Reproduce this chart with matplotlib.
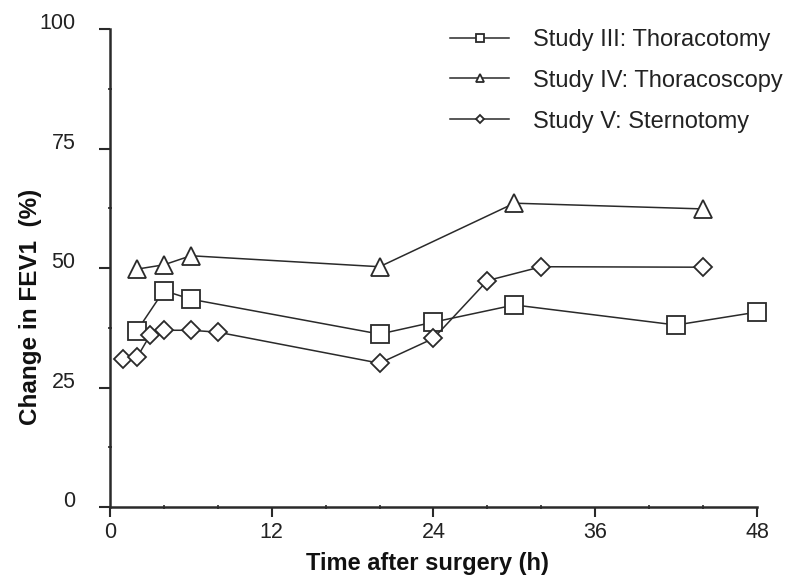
import matplotlib
matplotlib.use("Agg")
import matplotlib.pyplot as plt
import matplotlib.transforms as mtransforms
from matplotlib.ticker import MultipleLocator

# FEV1 change after surgery, per study
t_thoracotomy = [2, 4, 6, 20, 24, 30, 42, 48]
fev1_thoracotomy = [36.9, 45.3, 43.5, 36.2, 38.7, 42.3, 38.1, 40.8]

t_thoracoscopy = [2, 4, 6, 20, 30, 44]
fev1_thoracoscopy = [49.8, 50.7, 52.6, 50.3, 63.6, 62.4]

t_sternotomy = [1, 2, 3, 4, 6, 8, 20, 24, 28, 32, 44]
fev1_sternotomy = [31.0, 31.3, 36.1, 37.0, 37.0, 36.6, 30.1, 35.3, 47.4, 50.3, 50.2]

labels = ["Study III: Thoracotomy", "Study IV: Thoracoscopy", "Study V: Sternotomy"]

plt.rcParams['font.family'] = ['Liberation Sans', 'DejaVu Sans']

ink = '#2a2a2a'
fig = plt.figure(figsize=(7.93, 5.78), dpi=100)
ax = fig.add_axes([0.1387, 0.1228, 0.8159, 0.8265])

common = dict(color=ink, lw=1.1, mfc='white', mec=ink, mew=1.3, clip_on=False)
ax.plot(t_thoracotomy, fev1_thoracotomy, marker='s', ms=13, label=labels[0], **common)
ax.plot(t_thoracoscopy, fev1_thoracoscopy, marker='^', ms=13, label=labels[1], **common)
ax.plot(t_sternotomy, fev1_sternotomy, marker='D', ms=9, label=labels[2], **common)

ax.set_xlim(0, 48)
ax.set_ylim(0, 100)
ax.xaxis.set_major_locator(MultipleLocator(12))
ax.xaxis.set_minor_locator(MultipleLocator(4))
ax.yaxis.set_major_locator(MultipleLocator(25))
ax.yaxis.set_minor_locator(MultipleLocator(12.5))

for side in ['top', 'right']:
    ax.spines[side].set_visible(False)
for side in ['left', 'bottom']:
    ax.spines[side].set_linewidth(1.8)
    ax.spines[side].set_color(ink)

ax.tick_params(axis='both', which='major', direction='out', length=7, width=1.5,
               color=ink, labelsize=15.5, labelcolor='#222222')
ax.tick_params(axis='both', which='minor', direction='inout', length=3, width=1.2, color=ink)
ax.tick_params(axis='y', which='major', length=8, pad=17)
ax.tick_params(axis='x', which='major', pad=4)

# y tick labels sit a little above their ticks
shift = mtransforms.ScaledTranslation(0, 8 / 100, fig.dpi_scale_trans)
for lab in ax.get_yticklabels():
    lab.set_transform(lab.get_transform() + shift)

ax.set_xlabel("Time after surgery (h)", fontsize=17, fontweight='bold', color='#111111')
ax.set_ylabel("Change in FEV1  (%)", fontsize=17.5, fontweight='bold', color='#111111')
ax.xaxis.set_label_coords(0.49, -0.095)
ax.yaxis.set_label_coords(-0.105, 0.42)

leg = ax.legend(loc='upper right', bbox_to_anchor=(1.014, 0.987), bbox_transform=fig.transFigure,
                frameon=False, fontsize=17, markerscale=0.45, handlelength=2.5,
                handletextpad=1.0, labelspacing=0.8)
for txt in leg.get_texts():
    txt.set_color('#222222')

fig.savefig("out.png", dpi=100)
